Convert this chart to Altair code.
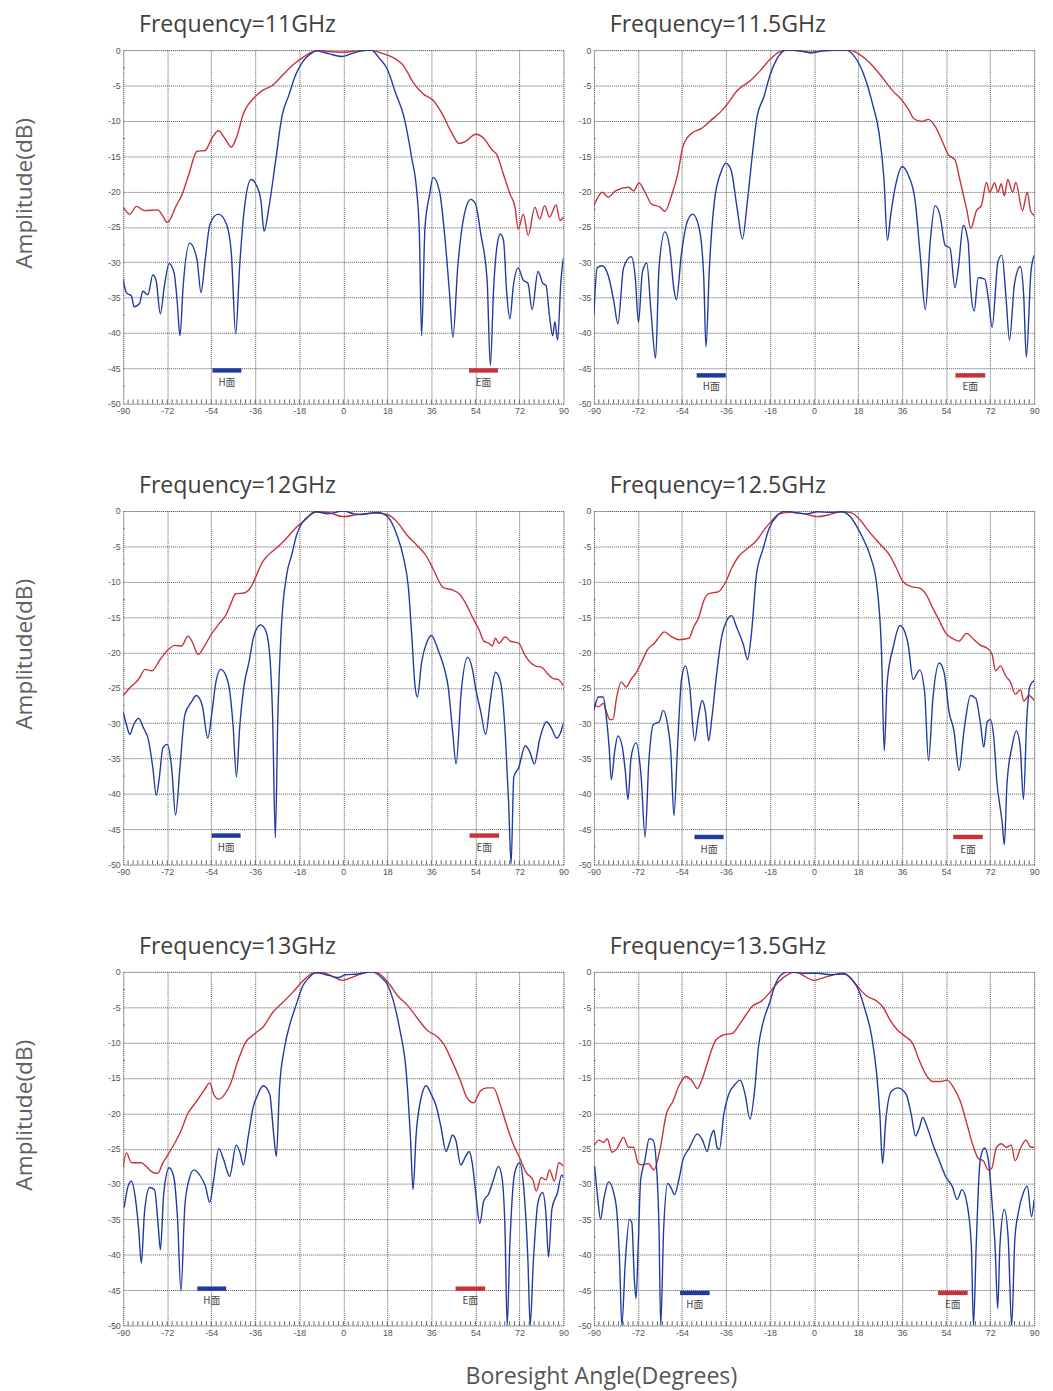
import altair as alt
import pandas as pd

titles = ["Frequency=11GHz", "Frequency=11.5GHz", "Frequency=12GHz",
          "Frequency=12.5GHz", "Frequency=13GHz", "Frequency=13.5GHz"]

x_ticks = [-90, -72, -54, -36, -18, 0, 18, 36, 54, 72, 90]
y_ticks = [0, -5, -10, -15, -20, -25, -30, -35, -40, -45, -50]
minor_x = list(range(-88, 90, 2))
minor_y = [-2.5, -7.5, -12.5, -17.5, -22.5, -27.5, -32.5, -37.5, -42.5, -47.5]

# ---- 11 GHz ----
E_11 = [(-90,-22.2),(-87.3,-23.2),(-84.6,-22.1),(-81.3,-22.7),(-75.9,-22.6),(-73.9,-23.4),(-72,-24.4),
        (-70.6,-23.8),(-68.6,-22.2),(-65.9,-20.4),(-63.2,-17.6),(-59.8,-14.3),(-56.5,-14.2),(-53.8,-12.5),
        (-51.1,-11.4),(-48.4,-12.5),(-45.8,-13.7),(-43.8,-12.5),(-41.1,-9.2),(-36.4,-6.7),(-33,-5.7),
        (-29,-5.0),(-25,-3.6),(-21,-2.2),(-16.8,-1.1),(-12.9,-0.3),(-10.2,0),(-6,-0.2),(0,-0.3),(6,-0.1),
        (11.2,0),(15.2,-0.4),(20.6,-1.1),(24.6,-2.2),(28.6,-4.6),(32.7,-6.2),(36.7,-7.1),(40.7,-9.2),
        (44,-11.5),(47.4,-13.2),(50,-12.9),(54.1,-11.9),(57.5,-12.5),(60.8,-14.1),(62.8,-14.8),
        (65.5,-17.6),(68.2,-20.4),(70.2,-22.2),(71.5,-25.3),(73.6,-23.2),(75.6,-26.2),(78.3,-22.2),
        (80.3,-23.9),(82.3,-22),(84.3,-23.6),(87,-21.9),(88.6,-24.1),(90,-23.6)]
H_11 = [(-90,-32.5),(-88.7,-34.3),(-86.6,-34.8),(-85.6,-36.3),(-83.3,-35.8),(-82,-34.1),(-79.9,-34.6),
        (-77.9,-31.8),(-76.6,-32.5),(-74.8,-37.3),(-73.2,-33.4),(-71.2,-30.2),(-69.2,-31.5),(-67.9,-35.7),
        (-66.8,-40.4),(-65.5,-33.4),(-62.8,-27.3),(-59.8,-29.7),(-58.2,-34.3),(-56.5,-29.7),(-54.5,-24.6),
        (-51.1,-23.2),(-47.8,-24.6),(-45.8,-28.7),(-44,-40.1),(-42.4,-30.6),(-40.4,-22.2),(-37.7,-18.3),
        (-35.7,-19),(-33.7,-21.3),(-32.4,-25.6),(-30.4,-22.2),(-27.7,-15.7),(-25,-9.2),(-22.3,-6.4),
        (-19.6,-3.6),(-16.9,-1.8),(-12.9,-0.4),(-10.9,-0.1),(-6,-0.5),(-0.7,-0.9),(3.4,-0.5),(7.4,-0.1),
        (11.4,0),(14.6,-1.1),(18,-2.7),(21.3,-6),(24.6,-9.2),(28,-15.3),(30,-19.9),(31.1,-26),(32,-40.4),
        (33.4,-25),(35.3,-20.4),(36.7,-18),(39.4,-20.1),(41.4,-26),(43.4,-34.3),(44.8,-40.6),(46.8,-30.6),
        (49.5,-23.2),(52.1,-21.1),(54.1,-21.8),(56.2,-26),(58.8,-32.5),(60.1,-44.6),(61.5,-33.4),
        (62.8,-27.8),(64.2,-26),(65.5,-26.9),(66.8,-34.3),(68.1,-38),(69.5,-33.4),(71.5,-30.8),
        (73.5,-32.5),(75.5,-33),(77.2,-36.7),(79.6,-31.3),(81.6,-33),(82.9,-33.3),(84.3,-37.6),
        (85.6,-40.4),(86.5,-38.4),(87.6,-41),(89,-32.5),(90,-29.4)]

# ---- 11.5 GHz ----
E_115 = [(-90,-22),(-86.6,-20.1),(-84.2,-20.8),(-81.2,-19.9),(-75.8,-19.4),(-73.8,-19.9),(-71.6,-18.8),
         (-69.1,-20.1),(-66.4,-21.8),(-63,-22.2),(-61,-22.8),(-58.3,-20.6),(-55.6,-17.3),(-53.6,-13.6),
         (-50.2,-11.8),(-46.2,-11.1),(-42.1,-9.9),(-38.1,-8.7),(-35.4,-7.6),(-31.4,-5.7),(-26,-4.3),
         (-22,-2.9),(-18,-1.3),(-13.9,-0.2),(-10.5,0),(-5.8,-0.1),(-1.8,-0.3),(7.7,0),(14.4,0),(18.5,-0.6),
         (23.9,-2.2),(28,-3.9),(32,-5.7),(36,-7.1),(38.8,-8.5),(40.8,-9.7),(44.1,-10.1),(46.8,-9.8),
         (49.5,-10.8),(52.2,-12.7),(54.9,-14.8),(57.6,-15.5),(59.6,-18.3),(62.4,-22.5),(64.1,-25.2),
         (66.4,-22.7),(68.4,-22),(70.5,-18.7),(71.8,-20.1),(73.8,-18.8),(75.2,-20.1),(76.5,-18.9),
         (77.8,-20.6),(79.2,-18.3),(81.2,-20.1),(82.5,-18.7),(85.2,-22.7),(87.2,-20.1),(88.5,-22.7),(90,-23.4)]
H_115 = [(-90,-37.3),(-88.7,-30.8),(-86.6,-30.5),(-83.9,-32.2),(-81.9,-35.5),(-80.2,-38.7),(-77.9,-30.8),
         (-74.8,-29.2),(-73.1,-32.2),(-71.8,-38.5),(-70.2,-31.4),(-68.4,-30.1),(-66.7,-36.9),(-64.8,-43.6),
         (-63.4,-30.8),(-61,-25.7),(-59,-28),(-57.2,-34.1),(-56.3,-35.3),(-54.3,-29),(-51.9,-24.3),
         (-49.6,-23.2),(-46.9,-25.3),(-45.1,-32.2),(-44.2,-42),(-42.8,-30.8),(-40.8,-21.5),(-38.1,-17.3),
         (-36.1,-16),(-34,-16.9),(-31.4,-22.5),(-29.3,-26.7),(-27.3,-21.5),(-25.3,-15),(-23.3,-9.4),
         (-20.6,-6.7),(-17.9,-3.4),(-15.3,-1.3),(-11.2,0),(-5.8,-0.1),(-1.1,-0.4),(3.6,-0.1),(13.1,0),
         (15.8,-0.6),(18.5,-2),(21.2,-4.3),(23.9,-7.6),(26.6,-11.8),(28.6,-18.3),(30,-26.9),(31.3,-23.4),
         (33.3,-19.2),(36,-16.5),(38.7,-17.8),(41.4,-21.5),(43.4,-29),(45.5,-36.7),(47.5,-27.1),(49.5,-22),
         (51.5,-23.4),(53.6,-27.6),(55.6,-28),(57.6,-33.6),(59,-30.8),(61,-24.8),(63,-27.1),(64.1,-34.1),
         (65.5,-36.9),(67.1,-32.2),(69.8,-32.4),(71.4,-35.5),(72.8,-39.2),(75.2,-29.9),(76.8,-29),
         (78.5,-35),(79.9,-41),(81.9,-33.2),(84.3,-30.6),(85.7,-34.6),(86.8,-43.4),(88.7,-31.3),(90,-29)]

# ---- 12 GHz ----
E_12 = [(-90,-26.1),(-87,-24.9),(-83.7,-23.8),(-81,-22.4),(-78.3,-22.6),(-74.9,-21),(-71.6,-19.6),
        (-68.9,-19),(-66.2,-19.1),(-63.5,-17.7),(-61.5,-18.7),(-59.4,-20.3),(-56.8,-19.1),(-54.1,-17.5),
        (-50.7,-15.9),(-48,-14.7),(-46,-13.1),(-44,-11.7),(-40.6,-11.6),(-37.9,-10.8),(-35.9,-9.4),
        (-33.2,-7.3),(-30.6,-6.2),(-27.2,-5.2),(-23.9,-4.1),(-19.8,-2.5),(-15.7,-1.3),(-11.7,-0.1),
        (-6.3,-0.2),(0,-0.8),(5.8,-0.5),(12.5,-0.3),(17.9,-0.5),(21.9,-1.5),(26,-3.4),(30,-4.8),(34,-6.4),
        (36.7,-8.2),(40.8,-10.8),(44.8,-11.2),(47.4,-11.7),(50.1,-13.1),(52.8,-15),(55.5,-16.8),
        (57.5,-18.4),(59.5,-18.7),(60.9,-19.1),(62.2,-18),(63.6,-18.7),(66.2,-17.8),(68.3,-18.4),
        (71.7,-18.7),(74.4,-20.5),(78.4,-21.9),(81.1,-22.1),(83.8,-23.1),(85.8,-23.7),(87.8,-23.8),(90,-24.7)]
H_12 = [(-90,-28.4),(-88.7,-30.2),(-87.3,-31.6),(-85.7,-30.2),(-83.7,-29.3),(-81.7,-30.7),(-79.6,-32.5),
        (-77.9,-36.3),(-76.5,-40.2),(-75.2,-37.6),(-73.8,-33.5),(-72,-33),(-70.2,-36.3),(-68.6,-43),
        (-66.8,-36.3),(-64.8,-28.8),(-62.1,-27),(-60.1,-26.1),(-57.7,-27.5),(-55.4,-32.1),(-53.7,-28.4),
        (-52.1,-24.2),(-50.1,-22.4),(-48,-23.3),(-46.7,-24.9),(-45.1,-30.2),(-43.7,-37.6),(-42.4,-30.7),
        (-40.6,-24.7),(-38.6,-21.4),(-36.6,-17.7),(-33.9,-16.1),(-31.9,-16.8),(-30.3,-19.6),(-28.9,-29.3),
        (-27.8,-46.2),(-26.8,-29.3),(-25.4,-16.8),(-23.1,-8.9),(-21.1,-6.2),(-19.1,-3.4),(-17.1,-1.8),
        (-13.7,-0.6),(-11,-0.1),(-6.3,-0.4),(0,0),(4.4,-0.4),(7.1,-0.5),(13.9,-0.2),(16.5,-0.4),(19.2,-1.3),
        (21.9,-3.4),(24.6,-6.6),(26.6,-10.8),(28,-17.7),(29.3,-24.7),(30.3,-26.3),(32,-21.4),(34,-18.7),
        (36,-17.6),(38.7,-19.6),(41.4,-22.4),(42.8,-24.7),(44.8,-31.6),(46.1,-35.8),(48.2,-25.6),
        (50.8,-20.7),(52.8,-22.4),(54.1,-25.1),(56.2,-28.4),(58.2,-31.6),(60.2,-26.5),(62.2,-22.8),
        (64.3,-24.2),(66.3,-32.1),(67.6,-41.3),(68.6,-49.9),(69.7,-37.6),(71.7,-36.3),(74.4,-33.2),
        (76.4,-34.2),(78.1,-35.8),(80.4,-32.1),(83.1,-29.8),(85.1,-30.7),(87.2,-32.1),(88.5,-31.6),(90,-30)]

# ---- 12.5 GHz ----
E_125 = [(-90,-27.2),(-88.2,-27.7),(-86.2,-27.2),(-84.9,-28.4),(-83.5,-29.5),(-82.2,-29.5),(-80.8,-26.5),
         (-78.8,-24.2),(-76.8,-24.9),(-74.8,-23.8),(-72.8,-22.9),(-70.7,-21.5),(-68.1,-19.6),(-65.3,-18.7),
         (-63.3,-17.8),(-61.3,-17.1),(-58.6,-17.7),(-55.3,-18.2),(-51.2,-18),(-49.2,-16.4),(-47.1,-15),
         (-45.1,-12.7),(-43.1,-11.7),(-39,-11.4),(-36.4,-10.2),(-33.7,-8.1),(-31,-6.5),(-27.6,-5.4),
         (-23.6,-4.2),(-20.3,-2.6),(-17.6,-1.5),(-14.2,-0.4),(-9.4,-0.2),(-4,-0.4),(1.3,-0.8),(5.4,-0.6),
         (10.8,-0.1),(14.8,-0.2),(18.1,-1),(22.9,-3.1),(27,-4.7),(31,-6.3),(33.7,-8.1),(36.4,-10),
         (39.8,-10.7),(43.2,-10.9),(45.8,-11.8),(48.5,-13.7),(51.2,-15.5),(53.9,-17.3),(56.6,-18),
         (59.3,-18.4),(62.3,-17.3),(65.4,-18.2),(68.1,-19),(70.8,-19.4),(72.8,-20.3),(74.2,-22.6),
         (76.2,-21.9),(78.3,-23.3),(80.3,-24.2),(82.3,-25.9),(84.4,-25.3),(85.8,-26.9),(87.8,-26.1),(90,-26.8)]
H_125 = [(-90,-28.2),(-88.2,-26.3),(-86.2,-26.3),(-84.9,-29.3),(-83.8,-33.4),(-82.9,-38),(-81.5,-33.9),
         (-80.2,-31.8),(-78.4,-33.4),(-77.1,-37.1),(-76.1,-40.8),(-74.8,-34.8),(-72.8,-32.8),(-70.7,-37.6),
         (-69.1,-46.1),(-67.6,-35.7),(-65.7,-30.2),(-63.3,-29.8),(-61.7,-28.2),(-59.9,-30.2),(-58.6,-33.9),
         (-57.3,-43.1),(-55.9,-33.9),(-54.2,-23.8),(-52.6,-21.9),(-50.9,-24.7),(-48.8,-32.5),(-47.4,-29.3),
         (-45.8,-26.8),(-44.4,-28.4),(-43.1,-32.5),(-41.8,-29.3),(-39.8,-22.9),(-37.8,-17.8),(-35.7,-15.5),
         (-33.7,-14.8),(-31.7,-16.4),(-28.9,-18.9),(-27.2,-21),(-25.6,-17.3),(-23.6,-9.1),(-20.9,-5.4),
         (-18.3,-2.4),(-14.9,-0.6),(-11.5,0),(-6.7,-0.3),(-2.7,-0.4),(1.3,-0.1),(6.7,-0.2),(11.5,-0.1),
         (14.8,-0.8),(17.5,-2.2),(20.2,-4),(22.9,-6.3),(25.6,-10.4),(27.6,-20.1),(28.7,-33.9),(29.9,-24.2),
         (32.4,-19.2),(35.1,-16.2),(38.4,-18.7),(40.5,-23.8),(43.2,-22.5),(45.2,-25.6),(46.8,-35.3),
         (48.6,-26.5),(51.2,-21.5),(53.2,-22.9),(55.2,-28.4),(57.2,-31.1),(59.3,-36.7),(61.3,-31.1),
         (64,-26.1),(66.1,-26.5),(68.1,-30.2),(69.4,-33.4),(70.8,-29.8),(72.1,-29.5),(73.5,-32.1),
         (74.8,-38.5),(76.2,-42.2),(76.9,-44),(77.8,-47.2),(78.9,-38.5),(80.9,-33.4),(82.7,-31.1),
         (84.3,-33.4),(85.6,-40.8),(87,-29.3),(88.3,-24.7),(90,-24)]

# ---- 13 GHz ----
E_13 = [(-90,-27.5),(-88.7,-25.6),(-86.6,-27),(-82.6,-27),(-80.6,-27.5),(-78.6,-28.2),(-75.9,-28.5),
        (-73.8,-27),(-71.8,-25.9),(-69.1,-24.3),(-66.4,-22.5),(-63.7,-20.1),(-60.4,-18.5),(-57,-16.8),
        (-54.6,-15.7),(-53,-17.3),(-50.9,-18),(-48.9,-17.5),(-46.2,-15.9),(-43.6,-13.1),(-40.2,-10.1),
        (-36.1,-8.7),(-32.8,-7.8),(-28.8,-5.7),(-24.7,-4.3),(-20.7,-2.9),(-16.6,-1.3),(-12.6,-0.2),
        (-8.6,-0.1),(-4.6,-0.6),(-0.5,-1.2),(4.8,-0.6),(10.2,0),(14.3,-0.2),(18.3,-1.5),(22.3,-3.4),
        (26.4,-4.8),(30.4,-6.6),(34.4,-8.3),(38.6,-9.2),(41.2,-10.3),(43.9,-12.2),(47.9,-15.4),(50.6,-17.8),
        (53.3,-18.5),(56.1,-16.8),(58.7,-16.4),(61.4,-16.4),(64.1,-18.7),(66.8,-21.7),(69.4,-24.3),
        (72.1,-26.3),(74.8,-28.4),(77.5,-29.4),(78.9,-31),(80.9,-29.1),(82.9,-29.4),(84.3,-28),(86.3,-29.6),
        (88.1,-27),(90,-27.5)]
H_13 = [(-89.6,-33.3),(-88,-30.3),(-86.6,-29.6),(-85,-32.1),(-83.7,-36.3),(-82.6,-41.2),(-81.3,-34),
        (-79.2,-30.5),(-77.2,-30.8),(-75.6,-36.3),(-74.8,-39.3),(-73.4,-31.2),(-71.2,-27.7),(-69.4,-28.9),
        (-67.8,-34.9),(-66.4,-45.1),(-64.8,-33.1),(-63.1,-29.4),(-61.1,-28),(-58.4,-28.9),(-56.4,-30.3),
        (-54.6,-32.6),(-53,-29.4),(-50.9,-25),(-48.9,-26.6),(-46.5,-28.9),(-43.8,-24.5),(-42.2,-25.6),
        (-40.9,-27.3),(-38.9,-23.3),(-36.9,-19.2),(-34.9,-17.3),(-32.8,-16.1),(-30.1,-17.3),(-28.5,-22.9),
        (-27.4,-26.1),(-26.1,-16.4),(-24.1,-10.8),(-22,-7.6),(-19.4,-4.8),(-16.6,-2),(-14,-0.8),(-11.3,-0.1),
        (-5.9,-0.5),(-1.9,-0.8),(0.8,-0.4),(6.2,-0.3),(11.6,0),(15.6,-0.8),(18.3,-2),(21,-4.8),(23,-8),
        (25.7,-14.1),(27.5,-23.8),(28.5,-30.8),(29.8,-22.9),(31.8,-17.8),(33.9,-16.1),(35.9,-17.3),
        (37.9,-18.9),(39.9,-21.9),(42,-25.4),(43.3,-24.3),(44.6,-23.1),(46,-23.8),(48,-27.3),(50,-26.1),
        (51.4,-25.4),(52.7,-27),(54,-30.8),(55.8,-35.6),(57.4,-32.4),(59.4,-31.4),(61.4,-29.4),(63.4,-27.5),
        (64.8,-28.9),(66.1,-36.3),(67,-50),(68.1,-38.6),(70.1,-28.4),(72.1,-27),(73.7,-30.3),(75.5,-41),
        (76.4,-50),(77.7,-41),(79.6,-32.6),(81.5,-31.2),(82.8,-34),(83.9,-40.3),(85.3,-33.5),(87.6,-31.2),
        (89.3,-28.7),(90,-29.1)]

# ---- 13.5 GHz ----
E_135 = [(-90,-24.6),(-88,-23.8),(-86,-24.1),(-84.6,-23.6),(-82.6,-25.5),(-80.6,-25),(-77.9,-23.4),
         (-75.9,-24.8),(-73.9,-24.8),(-71.9,-27.1),(-69.9,-27.3),(-67.8,-27.1),(-65.5,-28),(-63.1,-25.3),
         (-60.4,-20.1),(-57.7,-18.3),(-55.1,-16),(-52.4,-14.8),(-49.7,-15.5),(-47.7,-16.5),(-45.6,-15),
         (-43,-12.2),(-40.3,-9.7),(-36.9,-8.9),(-33.5,-8.7),(-30.8,-7.6),(-28.1,-6.2),(-25.4,-4.9),
         (-21.4,-4.1),(-18.1,-2.9),(-14.8,-1.5),(-10.8,-0.4),(-7.4,0),(-4,-0.6),(0,-1.2),(4,-0.8),(8.1,-0.4),
         (12.1,-0.2),(14.8,-0.8),(18.1,-2.2),(21.5,-3.4),(25.5,-4.1),(28.2,-5),(30.9,-6.7),(34.3,-8.3),
         (37.6,-9.2),(40.3,-10.1),(43,-12.5),(45.7,-14.5),(48.4,-15.5),(51.7,-15.5),(54.4,-15.3),
         (57.1,-16.4),(59.8,-18.3),(62.5,-21.5),(65.2,-24.8),(67.2,-26.4),(69.2,-26.7),(71.2,-28),
         (72.6,-27.8),(74.6,-24.8),(76.6,-24.3),(78.6,-24.8),(80.6,-24.5),(82.2,-26.7),(84.6,-24.8),
         (86.6,-23.8),(88.7,-24.8),(90,-24.8)]
H_135 = [(-89.7,-27.6),(-88.4,-32.2),(-87.3,-35),(-86,-32.2),(-84,-29.7),(-81.9,-31.3),(-80.6,-34.1),
         (-79.5,-41.1),(-78.6,-50),(-77.2,-41.1),(-75.5,-35),(-74.5,-35.5),(-73.5,-43.4),(-72.8,-46.2),
         (-71.9,-38.7),(-70.9,-29.4),(-69.2,-26.7),(-67.4,-23.6),(-65.8,-23.8),(-64.5,-27.1),(-63.4,-36.4),
         (-62.7,-50),(-61.5,-36.4),(-59.8,-29.9),(-58.4,-30.6),(-57.1,-31.5),(-55.3,-29.4),(-53.7,-26.7),
         (-51,-24.9),(-47.7,-22.9),(-45.6,-23.8),(-43.7,-25.4),(-42.3,-23.4),(-41,-22.4),(-39.6,-24.9),
         (-38.7,-25.1),(-36.9,-20.1),(-34.9,-17.3),(-32.3,-15.9),(-30.2,-15.3),(-28.2,-17.3),(-26.2,-20.8),
         (-24.2,-16.4),(-22.8,-10.8),(-20.8,-7.1),(-18.1,-4.3),(-16.1,-2),(-13.4,-0.4),(-10.8,0),(-4,-0.2),
         (1.3,-0.2),(6.7,-0.4),(12.1,-0.3),(15.5,-1.1),(18.1,-2.5),(20.8,-5.3),(23.5,-9),(25.5,-14.1),
         (26.9,-20.1),(28,-27.1),(29.3,-21.1),(31.6,-16.9),(34.3,-16.4),(37.6,-17.3),(39.7,-20.1),
         (41.5,-23.2),(43.1,-22),(44.4,-20.6),(46.5,-22.2),(48.5,-24.3),(51.2,-26.7),(53.9,-29),(56.6,-30.4),
         (58.5,-32.2),(60.5,-30.8),(62.5,-32.7),(64.3,-38.7),(65.2,-50),(66.3,-38.7),(67.9,-26.7),
         (69.7,-24.9),(71.3,-26.7),(72.9,-33.2),(74,-38.7),(75.1,-47.6),(76,-38.7),(77.8,-33.6),(79.4,-37.8),
         (80.8,-50),(82.1,-37.8),(83.5,-34.1),(85.5,-31.3),(87.2,-30.3),(88.9,-34.6),(90,-32.2)]

E_series = [E_11, E_115, E_12, E_125, E_13, E_135]
H_series = [H_11, H_115, H_12, H_125, H_13, H_135]

# legend markers: (bar start, bar end) in degrees, bar level and label level in dB
legend_H = [(-53.5, -41.7), (-48, -36.1), (-53.8, -42), (-48.9, -37), (-59.7, -47.9), (-54.8, -42.7)]
legend_E = [(51.4, 63.2), (57.8, 70), (51.6, 63.7), (56.9, 69), (45.9, 58), (50.7, 62.8)]
legend_bar_db = [-45.3, -46, -45.9, -46.1, -44.8, -45.4]
legend_text_db = [-47.1, -47.7, -47.7, -47.9, -46.5, -47.1]

RED = "#c8323c"
BLUE = "#1f3b9e"
LABEL_FONT = "Liberation Sans"
W, H = 447, 359

xs = alt.Scale(domain=[-90, 90], nice=False, zero=False)
ys = alt.Scale(domain=[-50, 0], nice=False, zero=False)


def panel(i, left):
    xaxis = alt.Axis(values=x_ticks, labelExpr="'' + datum.value", title="", grid=True,
                     gridDash=[1, 1], gridColor="#444", gridOpacity=0.9, tickSize=0,
                     labelFlush=False, labelFontSize=9, labelColor="#555", labelFont=LABEL_FONT,
                     labelPadding=3, domain=False)
    yaxis_kw = dict(values=y_ticks, labelExpr="'' + datum.value", grid=True, gridDash=[1, 1],
                    gridColor="#444", gridOpacity=0.9, tickSize=0, labelFontSize=9, labelColor="#555",
                    labelFont=LABEL_FONT, labelPadding=3, domain=False)
    if left:
        yaxis = alt.Axis(title="Amplitude(dB)", titleFontSize=23, titleFont="Open Sans",
                         titleColor="#606060", titleFontWeight="normal", titlePadding=72,
                         titleY=145, **yaxis_kw)
    else:
        yaxis = alt.Axis(title="", **yaxis_kw)

    X = alt.X("ang:Q", scale=xs, axis=xaxis)
    Y = alt.Y("db:Q", scale=ys, axis=yaxis)

    ticks_df = pd.DataFrame({"ang": minor_x, "db": -50.0, "db2": -49.4})
    ticks = alt.Chart(ticks_df).mark_rule(color="#666", strokeWidth=1).encode(
        x=X, y=Y, y2=alt.Y2("db2:Q"))
    yticks_df = pd.DataFrame({"ang": -90.0, "ang2": -89.4, "db": minor_y})
    yticks = alt.Chart(yticks_df).mark_rule(color="#666", strokeWidth=1).encode(
        x=X, x2=alt.X2("ang2:Q"), y=Y)

    e_df = pd.DataFrame(E_series[i], columns=["ang", "db"])
    h_df = pd.DataFrame(H_series[i], columns=["ang", "db"])
    e_line = alt.Chart(e_df).mark_line(color=RED, strokeWidth=1.4, clip=True,
                                       interpolate="monotone").encode(x=X, y=Y)
    h_line = alt.Chart(h_df).mark_line(color=BLUE, strokeWidth=1.4, clip=True,
                                       interpolate="monotone").encode(x=X, y=Y)

    leg_df = pd.DataFrame({
        "ang": [legend_H[i][0], legend_E[i][0]],
        "ang2": [legend_H[i][1], legend_E[i][1]],
        "db": [legend_bar_db[i]] * 2,
        "mid": [(legend_H[i][0] + legend_H[i][1]) / 2, (legend_E[i][0] + legend_E[i][1]) / 2],
        "tdb": [legend_text_db[i]] * 2,
        "label": ["H面", "E面"],
        "s": ["H", "E"],
    })
    leg_bars = alt.Chart(leg_df).mark_rule(strokeWidth=4.5).encode(
        x=X, x2=alt.X2("ang2:Q"), y=Y,
        color=alt.Color("s:N", scale=alt.Scale(domain=["H", "E"], range=[BLUE, RED]), legend=None))
    leg_text = alt.Chart(leg_df).mark_text(fontSize=10, font="Noto Sans CJK SC", color="#444",
                                           baseline="middle").encode(
        x=alt.X("mid:Q", scale=xs, axis=xaxis), y=alt.Y("tdb:Q", scale=ys, axis=yaxis),
        text="label:N")

    return alt.layer(ticks, yticks, e_line, h_line, leg_bars, leg_text).properties(
        width=W, height=H,
        title=alt.TitleParams(titles[i], anchor="start", frame="group", dx=16, fontSize=23.5,
                              font="Open Sans", color="#404040", fontWeight="normal", offset=10))


rows = []
for r in range(3):
    rows.append(alt.hconcat(panel(2 * r, True), panel(2 * r + 1, False), spacing=8))

chart = alt.vconcat(*rows, spacing=58).properties(
    padding={"left": 5, "top": -6, "right": 5, "bottom": 5},
    title=alt.TitleParams("Boresight Angle(Degrees)", orient="bottom", anchor="middle", dx=76,
                          fontSize=23.5, font="Open Sans", color="#555", fontWeight="normal", offset=28)
).configure_view(stroke="#c0c0c0", fill="white").configure(background="white")

chart.save("out.html", embed_options={"renderer": "svg", "actions": False})
